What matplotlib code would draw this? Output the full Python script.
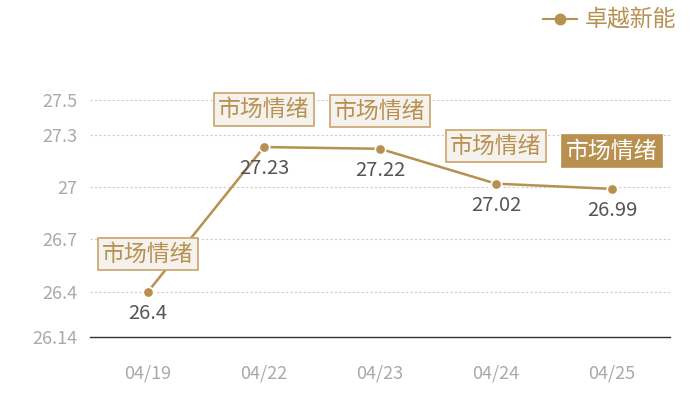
import matplotlib
matplotlib.use("Agg")
import matplotlib.pyplot as plt
from matplotlib.lines import Line2D

plt.rcParams['font.family'] = ['Noto Sans CJK SC', 'DejaVu Sans']

dates = ["04/19", "04/22", "04/23", "04/24", "04/25"]
values = [26.4, 27.23, 27.22, 27.02, 26.99]
value_labels = ["26.4", "27.23", "27.22", "27.02", "26.99"]
yticks = [26.14, 26.4, 26.7, 27.0, 27.3, 27.5]
ytick_labels = ["26.14", "26.4", "26.7", "27", "27.3", "27.5"]
series_name = "卓越新能"
note_text = "市场情绪"

gold = "#b8904f"
fig = plt.figure(figsize=(7, 4), dpi=100)
ax = fig.add_axes([0.1286, 0.1575, 0.8284, 0.5925])

x = list(range(len(dates)))
ax.plot(x, values, color=gold, lw=1.8, marker='o', ms=7.5,
        markerfacecolor=gold, markeredgecolor='white', markeredgewidth=1.2, zorder=3)

ax.set_xlim(-0.5, len(dates) - 0.5)
ax.set_ylim(26.14, 27.5)
ax.set_yticks(yticks)
ax.set_yticklabels(ytick_labels)
ax.set_xticks(x)
ax.set_xticklabels(dates)
ax.tick_params(axis='both', length=0, labelsize=13, colors='#aaaaaa')
ax.tick_params(axis='x', pad=20)
ax.tick_params(axis='y', pad=9)
for s in ['top', 'right', 'left']:
    ax.spines[s].set_visible(False)
ax.spines['bottom'].set_color('#333333')
ax.spines['bottom'].set_linewidth(1)
for yv in yticks[1:]:
    ax.axhline(yv, color='#cccccc', lw=0.8, ls=(0, (2, 2)), zorder=0)

for i, (v, lab) in enumerate(zip(values, value_labels)):
    ax.annotate(lab, (i, v), xytext=(0, -8), textcoords='offset points',
                ha='center', va='top', fontsize=14.5, color='#555555')
    last = (i == len(values) - 1)
    ax.annotate(note_text, (i, v), xytext=(0, 27), textcoords='offset points',
                ha='center', va='center', fontsize=16.5,
                color='white' if last else gold,
                bbox=dict(boxstyle='square,pad=0.2',
                          fc=gold if last else '#f5f1ec',
                          ec=gold if last else '#c9a46b', lw=1.2),
                annotation_clip=False, zorder=5)

handle = Line2D([0], [0], color=gold, lw=1.5, marker='o', ms=7.5,
                markerfacecolor=gold, markeredgecolor=gold)
leg = fig.legend([handle], [series_name], loc='upper right',
                 bbox_to_anchor=(0.995, 1.03), frameon=False,
                 fontsize=16.5, handlelength=1.5, handletextpad=0.3)
for t in leg.get_texts():
    t.set_color(gold)

fig.savefig("out.png", dpi=100)
